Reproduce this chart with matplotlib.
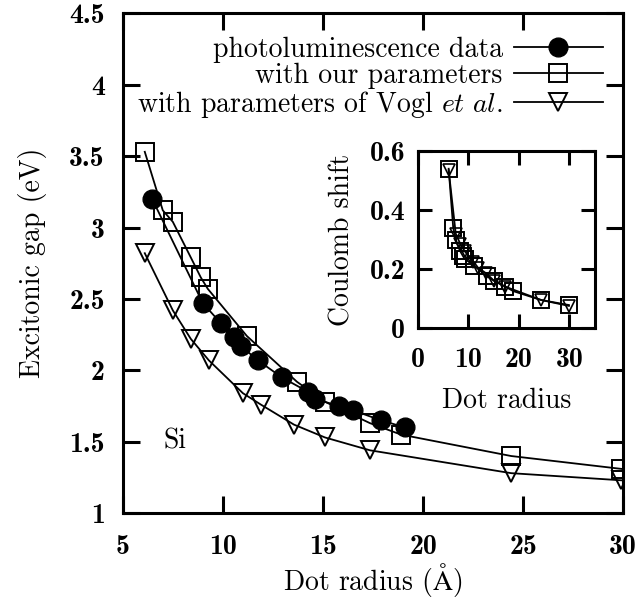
import matplotlib
matplotlib.use('Agg')
from matplotlib import pyplot as plt

plt.rcParams['font.family'] = ['cmr10', 'DejaVu Serif']
plt.rcParams['mathtext.fontset'] = 'cm'
plt.rcParams['axes.formatter.use_mathtext'] = True

# photoluminescence data
pl_r = [6.47, 9.0, 9.9, 10.55, 10.9, 11.75, 12.95, 14.25, 14.6, 15.8, 16.5, 17.9, 19.1]
pl_gap = [3.20, 2.47, 2.33, 2.23, 2.17, 2.07, 1.95, 1.85, 1.80, 1.75, 1.72, 1.65, 1.60]

# with our parameters
our_r = [6.1, 7.0, 7.5, 8.4, 8.9, 9.25, 11.2, 13.7, 15.1, 17.35, 18.9, 24.4, 29.9]
our_gap = [3.53, 3.12, 3.04, 2.79, 2.65, 2.57, 2.24, 1.92, 1.78, 1.63, 1.55, 1.40, 1.31]
our_coul = [0.54, 0.34, 0.30, 0.26, 0.245, 0.235, 0.21, 0.175, 0.16, 0.14, 0.125, 0.095, 0.078]

# with parameters of Vogl et al.
vogl_r = [6.1, 7.5, 8.4, 9.3, 11.0, 11.9, 13.55, 15.1, 17.35, 24.4, 29.9]
vogl_gap = [2.82, 2.42, 2.22, 2.07, 1.84, 1.76, 1.62, 1.53, 1.44, 1.28, 1.23]
vogl_coul = [0.535, 0.32, 0.285, 0.26, 0.225, 0.205, 0.185, 0.16, 0.14, 0.095, 0.075]

main_xticks = [5, 10, 15, 20, 25, 30]
main_yticks = [1, 1.5, 2, 2.5, 3, 3.5, 4, 4.5]
main_ylabels = ['1', '1.5', '2', '2.5', '3', '3.5', '4', '4.5']
inset_xticks = [0, 10, 20, 30]
inset_yticks = [0, 0.2, 0.4, 0.6]
inset_ylabels = ['0', '0.2', '0.4', '0.6']

fs = 20
fig = plt.figure(figsize=(6.36, 6.03), dpi=100)
ax = fig.add_axes([0.193, 0.149, 0.787, 0.829])

ms = 13.5
ax.plot(pl_r, pl_gap, '-o', color='black', lw=1.3, ms=ms, label='photoluminescence data')
ax.plot(our_r, our_gap, '-s', color='black', mfc='none', mew=1.4, lw=1.3, ms=ms,
        label='with our parameters')
ax.plot(vogl_r, vogl_gap, '-v', color='black', mfc='none', mew=1.4, lw=1.3, ms=ms,
        label=r'with parameters of Vogl $\mathit{et\ al.}$')

ax.set_xlim(5, 30)
ax.set_ylim(1, 4.5)
ax.set_xticks(main_xticks)
ax.set_xticklabels([str(t) for t in main_xticks], family='cmb10')
ax.set_yticks(main_yticks)
ax.set_yticklabels(main_ylabels, family='cmb10')
ax.tick_params(direction='in', length=12, width=2.2, labelsize=fs, top=True, right=True,
               pad=13)
ax.tick_params(axis='x', pad=15)
for s in ax.spines.values():
    s.set_linewidth(2.2)
ax.set_xlabel(r'Dot radius ($\mathrm{\AA}$)', fontsize=fs, labelpad=1)
ax.set_ylabel('Excitonic gap (eV)', fontsize=fs, labelpad=16)
ax.text(7.6, 1.5, 'Si', fontsize=fs, ha='center', va='center')

leg = ax.legend(loc='upper right', frameon=False, markerfirst=False, fontsize=fs,
                handlelength=3.2, handletextpad=0.4, labelspacing=0.0,
                borderaxespad=0.3, bbox_to_anchor=(0.998, 0.993))

# inset: Coulomb shift
ins = fig.add_axes([0.657, 0.456, 0.278, 0.2935])
ins.plot(our_r, our_coul, '-s', color='black', mfc='none', mew=1.4, lw=1.3, ms=11)
ins.plot(vogl_r, vogl_coul, '-v', color='black', mfc='none', mew=1.2, lw=1.3, ms=8)
ins.set_xlim(0, 35)
ins.set_ylim(0, 0.6)
ins.set_xticks(inset_xticks)
ins.set_xticklabels([str(t) for t in inset_xticks], family='cmb10')
ins.set_yticks(inset_yticks)
ins.set_yticklabels(inset_ylabels, family='cmb10')
ins.tick_params(direction='in', length=10, width=2.2, labelsize=fs, top=True, right=True,
                pad=9)
ins.tick_params(axis='x', pad=14)
for s in ins.spines.values():
    s.set_linewidth(2.2)
ins.set_xlabel('Dot radius', fontsize=fs, labelpad=10)
ins.set_ylabel('Coulomb shift', fontsize=fs, labelpad=10)

fig.savefig('out.png', dpi=100)
